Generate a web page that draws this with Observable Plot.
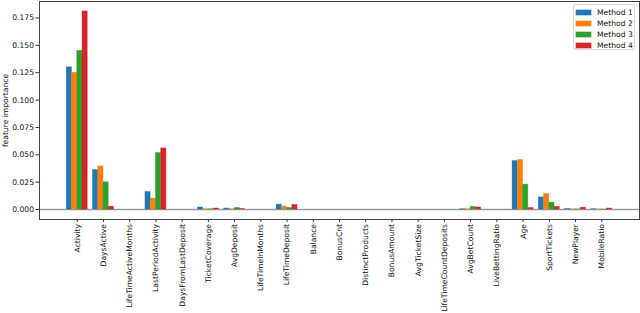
<!DOCTYPE html>
<html><head><meta charset="utf-8">
<script src="https://cdn.jsdelivr.net/npm/d3@7"></script>
<script src="https://cdn.jsdelivr.net/npm/@observablehq/plot@0.6"></script>
<style>
body{margin:0;background:#fff;}
#wrap{position:relative;width:640px;height:313px;font-family:"DejaVu Sans",sans-serif;}
#wrap svg text{font-family:"DejaVu Sans",sans-serif;}
#legend{position:absolute;left:573px;top:4px;width:62px;height:46px;box-sizing:border-box;border:1px solid #d8d8d8;border-radius:2px;background:#fff;font-size:7.6px;color:#111;padding-top:2px;}
#legend .row{display:flex;align-items:center;height:11px;}
#legend .sw{width:15px;height:5px;margin-left:2px;margin-right:6px;}
</style></head>
<body><div id="wrap"><div id="legend"></div></div>
<script>
const features = ["Activity","DaysActive","LifeTimeActiveMonths","LastPeriodActivity","DaysFromLastDeposit","TicketCoverage","AvgDeposit","LifeTimeInMonths","LifeTimeDeposit","Balance","BonusCnt","DistinctProducts","BonusAmount","AvgTicketSize","LifeTimeCountDeposits","AvgBetCount","LiveBettingRatio","Age","SportTickets","NewPlayer","MobileRatio"];
const methods = ["Method 1","Method 2","Method 3","Method 4"];
const colors = ["#1f77b4","#ff7f0e","#2ca02c","#d62728"];
const method1 = [0.130,0.0362,0,0.0161,0,0.0020,0.0010,0,0.0045,0,0,0,0,0,0,0.0003,0,0.0444,0.0112,0.0005,0.0004];
const method2 = [0.125,0.0395,0,0.0100,0,0.0003,0.0003,0,0.0027,0,0,0,0,0,0,0.0003,0,0.0453,0.0143,0.0002,0.0002];
const method3 = [0.145,0.0249,0,0.0517,0,0.0003,0.0015,0,0.0015,0,0,0,0,0,0,0.0025,0,0.0228,0.0064,0.0002,0.0001];
const method4 = [0.181,0.0027,0,0.0559,0,0.0010,0.0005,0,0.0043,0,0,0,0,0,0,0.0020,0,0.0015,0.0025,0.0018,0.0010];
const yTicks = [0,0.025,0.05,0.075,0.1,0.125,0.15,0.175];

const series = [method1,method2,method3,method4];
const rows = [];
series.forEach((vals, m) => vals.forEach((v, i) => {
  const off = -0.3 + 0.2*m;
  rows.push({i, method: methods[m], value: v, x1: i + off - 0.1, x2: i + off + 0.1});
}));

const chart = Plot.plot({
  width: 640, height: 313,
  marginLeft: 39, marginRight: 1, marginTop: 1, marginBottom: 94,
  style: {fontFamily: "'DejaVu Sans', sans-serif", fontSize: "7.6px", color: "#111", background: "#fff"},
  x: {domain: [-1.44, 21.44], axis: null},
  y: {domain: [-0.00905, 0.19005], axis: null},
  color: {domain: methods, range: colors},
  marks: [
    Plot.ruleY([0], {stroke: "#9a9a9a", strokeWidth: 1.5}),
    Plot.rectY(rows.filter(d => d.value > 0), {x1: "x1", x2: "x2", y1: 0, y2: "value", fill: "method", stroke: "method", strokeOpacity: 0.45, strokeWidth: 0.8}),
    Plot.axisX(d3.range(features.length), {tickFormat: i => features[i], tickRotate: -90, tickSize: 3, tickPadding: 1.5, label: null, stroke: "#333"}),
    Plot.axisY(yTicks, {tickFormat: d3.format(".3f"), tickSize: 3.5, tickPadding: 2, label: "feature importance", labelAnchor: "center", labelArrow: "none", labelOffset: 37, stroke: "#333"}),
    Plot.frame({stroke: "#444", strokeWidth: 1})
  ]
});
document.getElementById("wrap").prepend(chart);

const legend = document.getElementById("legend");
methods.forEach((m, k) => {
  const r = document.createElement("div");
  r.className = "row";
  r.innerHTML = `<span class="sw" style="background:${colors[k]};box-shadow:0 0 0 0.6px ${colors[k]}88"></span><span>${m}</span>`;
  legend.appendChild(r);
});
</script></body></html>
